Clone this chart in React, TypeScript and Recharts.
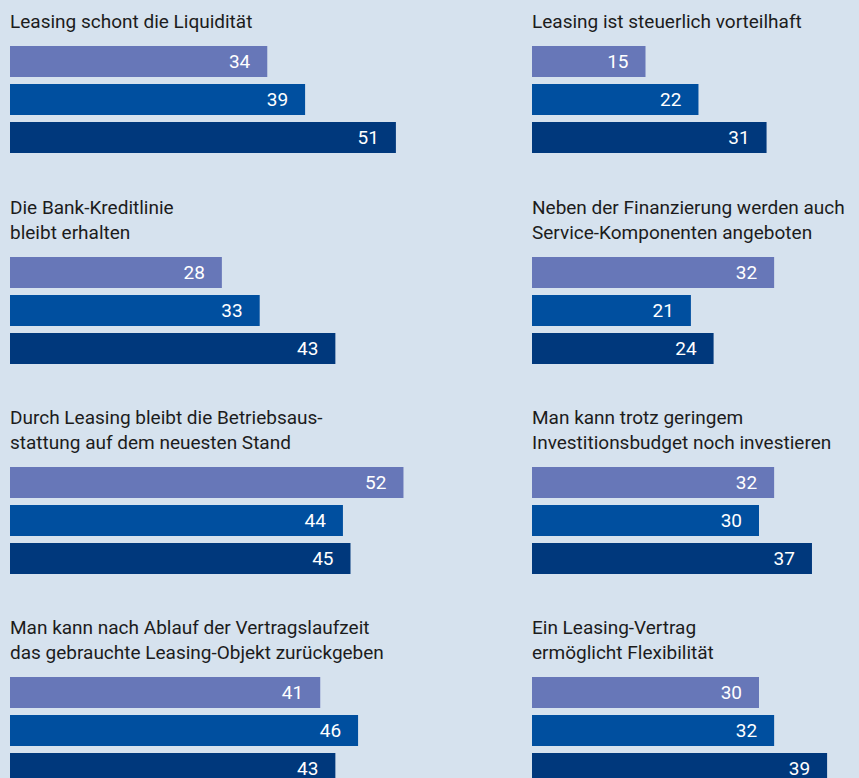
import React from 'react';
import { BarChart, Bar, XAxis, YAxis, Cell, LabelList } from 'recharts';

// Panel titles, read row by row (left, right)
const titles = [
  'Leasing schont die Liquidität',
  'Leasing ist steuerlich vorteilhaft',
  'Die Bank-Kreditlinie\nbleibt erhalten',
  'Neben der Finanzierung werden auch\nService-Komponenten angeboten',
  'Durch Leasing bleibt die Betriebsaus-\nstattung auf dem neuesten Stand',
  'Man kann trotz geringem\nInvestitionsbudget noch investieren',
  'Man kann nach Ablauf der Vertragslaufzeit\ndas gebrauchte Leasing-Objekt zurückgeben',
  'Ein Leasing-Vertrag\nermöglicht Flexibilität',
];

// three groups (top, middle, bottom bar of each panel)
const groupA = [34, 15, 28, 32, 52, 32, 41, 30];
const groupB = [39, 22, 33, 21, 44, 30, 46, 32];
const groupC = [51, 31, 43, 24, 45, 37, 43, 39];

const seriesColors = ['#6777b8', '#004f9f', '#00387c'];

const FONT = 'Roboto, "Liberation Sans", sans-serif';
const WIDTH = 859;
const HEIGHT = 778;
const ROW_TOPS = [45, 256, 466, 676];
const COL_LEFTS = [10, 532];

const Panel = ({ index }: { index: number }) => {
  const data = [
    { key: 'a', value: groupA[index] },
    { key: 'b', value: groupB[index] },
    { key: 'c', value: groupC[index] },
  ];
  const barTop = ROW_TOPS[Math.floor(index / 2)];
  const left = COL_LEFTS[index % 2];

  return (
    <>
      <div
        style={{
          position: 'absolute',
          left,
          bottom: HEIGHT - (barTop - 11),
          fontSize: 19,
          lineHeight: '25px',
          whiteSpace: 'pre-line',
          color: '#1c1c1c',
        }}
      >
        {titles[index]}
      </div>
      <div style={{ position: 'absolute', left, top: barTop - 3.5 }}>
        <BarChart
          width={454}
          height={114}
          data={data}
          layout="vertical"
          margin={{ top: 0, right: 0, bottom: 0, left: 0 }}
        >
          <XAxis type="number" domain={[0, 60]} hide />
          <YAxis type="category" dataKey="key" hide />
          <Bar dataKey="value" barSize={31} isAnimationActive={false}>
            {data.map((d, i) => (
              <Cell key={d.key} fill={seriesColors[i]} />
            ))}
            <LabelList
              dataKey="value"
              position="insideRight"
              offset={17}
              fill="#ffffff"
              fontSize={19}
              fontFamily={FONT}
            />
          </Bar>
        </BarChart>
      </div>
    </>
  );
};

export default function App() {
  return (
    <div
      style={{
        position: 'fixed',
        left: 0,
        top: 0,
        width: WIDTH,
        height: HEIGHT,
        overflow: 'hidden',
        background: '#d6e2ee',
        fontFamily: FONT,
      }}
    >
      {titles.map((t, i) => (
        <Panel key={t} index={i} />
      ))}
    </div>
  );
}
